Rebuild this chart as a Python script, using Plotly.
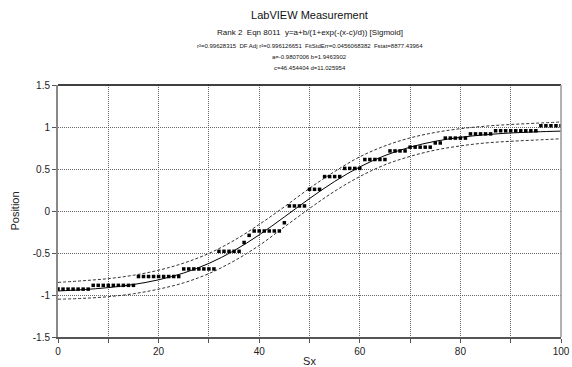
import plotly.graph_objects as go

# measured points (Sx, Position)
sx = list(range(0, 101))
position = (
    [-0.93] * 7 +            # 0-6
    [-0.885] * 9 +           # 7-15
    [-0.78] * 9 +            # 16-24
    [-0.69] * 7 +            # 25-31
    [-0.48] * 5 +            # 32-36
    [-0.375, -0.29] +        # 37-38
    [-0.238] * 6 +           # 39-44
    [-0.14] +                # 45
    [0.06] * 4 +             # 46-49
    [0.258] * 3 +            # 50-52
    [0.41] * 4 +             # 53-56
    [0.507] * 4 +            # 57-60
    [0.613] * 5 +            # 61-65
    [0.715] * 4 +            # 66-69
    [0.76] * 5 +             # 70-74
    [0.81] * 2 +             # 75-76
    [0.868] * 5 +            # 77-81
    [0.918] * 5 +            # 82-86
    [0.955] * 9 +            # 87-95
    [1.015] * 5              # 96-100
)

# fitted curve and band, read at every 5 units of Sx
fit_x = [0, 5, 10, 15, 20, 25, 30, 35, 40, 45, 50, 55, 60, 65, 70, 75, 80, 85, 90, 95, 100]
fit_y = [-0.952, -0.936, -0.912, -0.875, -0.819, -0.738, -0.624, -0.472, -0.284, -0.071,
         0.148, 0.352, 0.525, 0.660, 0.760, 0.830, 0.877, 0.908, 0.929, 0.942, 0.951]
upper_y = [-0.85, -0.83, -0.805, -0.765, -0.705, -0.62, -0.505, -0.35, -0.16, 0.05,
           0.27, 0.47, 0.645, 0.775, 0.87, 0.935, 0.98, 1.01, 1.03, 1.045, 1.06]
lower_y = [-1.05, -1.04, -1.02, -0.985, -0.93, -0.855, -0.745, -0.595, -0.41, -0.19,
           0.03, 0.235, 0.41, 0.55, 0.65, 0.725, 0.775, 0.81, 0.83, 0.845, 0.86]

x_tickvals = [0, 10, 20, 30, 40, 50, 60, 70, 80, 90, 100]
x_ticktext = ["0", "", "20", "", "40", "", "60", "", "80", "", "100"]
y_tickvals = [-1.5, -1, -0.5, 0, 0.5, 1, 1.5]
y_ticktext = ["-1.5", "-1", "-0.5", "0", "0.5", "1", "1.5"]

title_text = "LabVIEW Measurement"
header_lines = [
    "Rank 2  Eqn 8011  y=a+b/(1+exp(-(x-c)/d)) [Sigmoid]",
    "r²=0.99628315  DF Adj r²=0.996126651  FitStdErr=0.0456068382  Fstat=8877.43964",
    "a=-0.9807006 b=1.9463902",
    "c=46.454404 d=11.025954",
]

FONT = "Liberation Sans, Arial, sans-serif"
W, H = 572, 367
ML, MR, MT, MB = 58, 11, 85, 30

fig = go.Figure()
band_line = dict(color="#333", width=1, dash="3px,2px", shape="spline")
fig.add_trace(go.Scatter(x=fit_x, y=upper_y, mode="lines", line=band_line))
fig.add_trace(go.Scatter(x=fit_x, y=lower_y, mode="lines", line=band_line))
fig.add_trace(go.Scatter(x=fit_x, y=fit_y, mode="lines", line=dict(color="black", width=1, shape="spline")))
fig.add_trace(go.Scatter(x=sx, y=position, mode="markers",
                         marker=dict(symbol="square", size=3.5, color="black", line=dict(width=0))))

fig.update_layout(
    width=W, height=H,
    margin=dict(l=ML, r=MR, t=MT, b=MB, autoexpand=False),
    paper_bgcolor="white", plot_bgcolor="white",
    showlegend=False,
    font=dict(family=FONT, color="#222", size=10),
    title=dict(text=title_text, x=0.5, xanchor="center", xref="paper",
               y=1 - 15 / H, yref="container", yanchor="middle",
               font=dict(size=11, color="#111", family=FONT)),
    xaxis=dict(range=[0, 100], tickvals=x_tickvals, ticktext=x_ticktext,
               showgrid=True, gridcolor="#666", griddash="1px,1px", gridwidth=1,
               showline=True, linecolor="#555", linewidth=2,
               ticks="outside", ticklen=4, tickcolor="#555", automargin=False,
               zeroline=False, title=dict(text="Sx", font=dict(size=11), standoff=4),
               tickfont=dict(size=10)),
    yaxis=dict(range=[-1.5, 1.5], tickvals=y_tickvals, ticktext=y_ticktext,
               showgrid=True, gridcolor="#666", griddash="1px,1px", gridwidth=1,
               showline=True, linecolor="#888", linewidth=2,
               ticks="outside", ticklen=4, tickcolor="#555", automargin=False,
               zeroline=False, title=dict(text="Position", font=dict(size=11), standoff=11),
               tickfont=dict(size=10)),
    shapes=[
        dict(type="line", xref="paper", yref="paper", x0=0, x1=1, y0=1, y1=1,
             line=dict(color="black", width=1.5)),
        dict(type="line", xref="paper", yref="paper", x0=1, x1=1, y0=0, y1=1,
             line=dict(color="#999", width=1.5)),
    ],
)

plot_h = H - MT - MB
anns = []
for text, ypix, size in zip(header_lines, [32, 46, 57, 68], [8, 6, 6, 6]):
    yp = 1 + (MT - ypix) / plot_h
    anns.append(dict(text=text, x=0.5, y=yp, xref="paper", yref="paper",
                     showarrow=False, yanchor="middle", xanchor="center",
                     font=dict(size=size, color="#111", family=FONT)))
fig.update_layout(annotations=anns)

fig.write_html("out.html", config={"displayModeBar": False},
               post_script="document.body.style.margin='0';document.body.style.overflow='hidden';")
